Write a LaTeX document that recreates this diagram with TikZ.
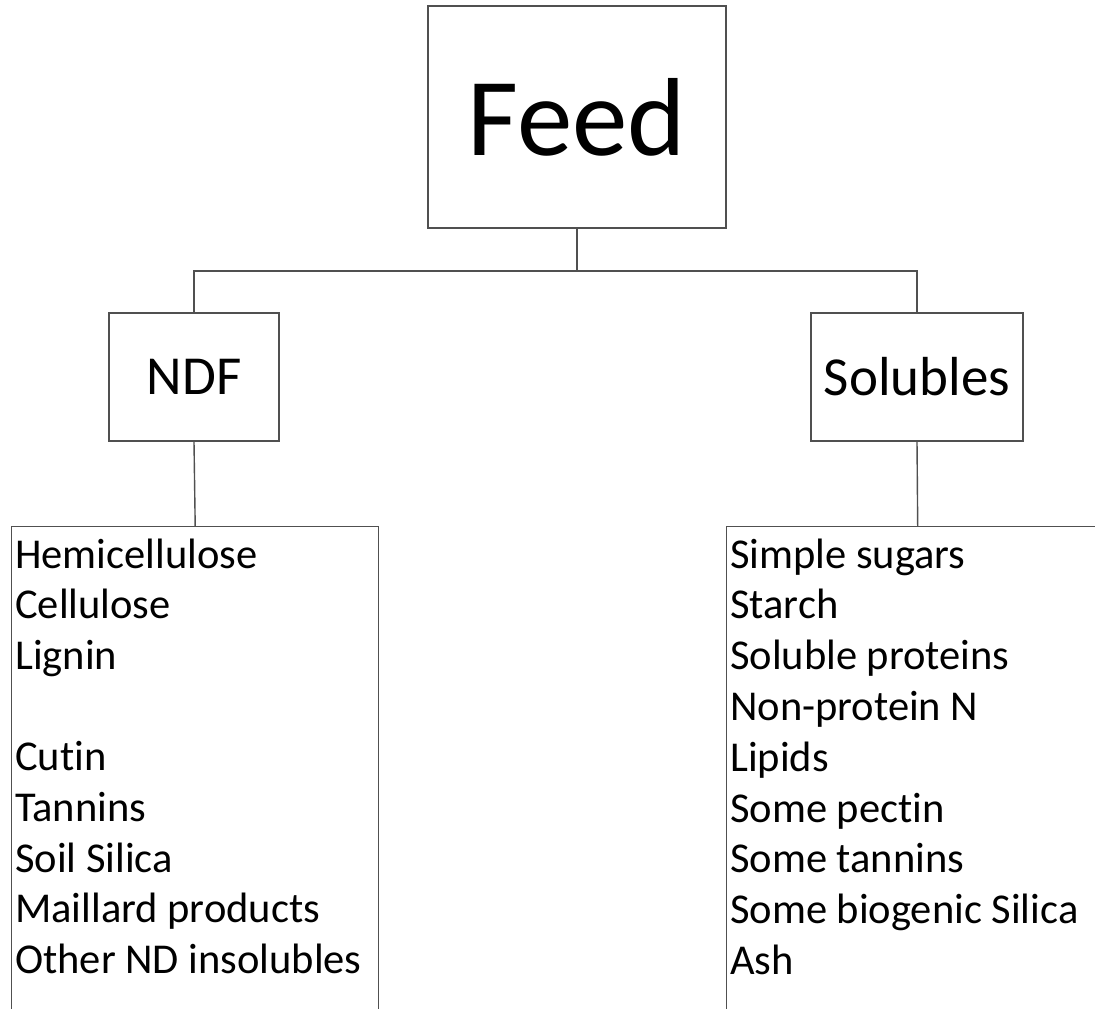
\documentclass[tikz,border=0pt]{standalone}
\usepackage{fontspec}
\setmainfont[Ligatures=NoCommon]{Carlito}
\definecolor{edge}{RGB}{80,80,80}
\begin{document}
\begin{tikzpicture}[x=1pt,y=-1pt,
  box/.style={draw=edge,line width=1.4pt,rectangle,inner sep=0pt,fill=white},
  wire/.style={draw=edge,line width=1.4pt},
  item/.style={inner sep=0pt,anchor=base west,font=\fontsize{42.5}{50}\selectfont}]
\useasboundingbox (0,0) rectangle (1095,1009);
\clip (0,0) rectangle (1095,1009);
\fill[white] (0,0) rectangle (1095,1009);

% top-level box
\node[box,minimum width=298pt,minimum height=222pt,font=\fontsize{111}{130}\selectfont]
  (feed) at (577,117) {Feed};

% second level
\node[box,minimum width=170pt,minimum height=128pt,font=\fontsize{55}{66}\selectfont]
  (ndf) at (194,377) {NDF};
\node[box,minimum width=212pt,minimum height=128pt,font=\fontsize{55}{66}\selectfont]
  (sol) at (917,377) {Solubles};

% content boxes (run past the lower edge)
\node[box,minimum width=367pt,minimum height=540pt,anchor=north west]
  (ndflist) at (11,526) {};
\node[box,minimum width=382pt,minimum height=540pt,anchor=north west]
  (sollist) at (726,526) {};

% tree connectors
\coordinate (split) at (577,271);
\draw[wire] (feed.south) -- (split);
\draw[wire] (split) -| (ndf.north);
\draw[wire] (split) -| (sol.north);
\draw[wire] (ndf.south) -- (ndflist.north);
\draw[wire] (sol.south) -- (sollist.north);

% list contents
\foreach \t [count=\i] in {Hemicellulose,Cellulose,Lignin,{},Cutin,Tannins,Soil Silica,Maillard products,Other ND insolubles}
  \node[item] (ndfitem\i) at (15,568+50.7*\i-50.7) {\t};
\foreach \t [count=\i] in {Simple sugars,Starch,Soluble proteins,Non-protein N,Lipids,Some pectin,Some tannins,Some biogenic Silica,Ash}
  \node[item] (solitem\i) at (730,568+50.8*\i-50.8) {\t};
\end{tikzpicture}
\end{document}
